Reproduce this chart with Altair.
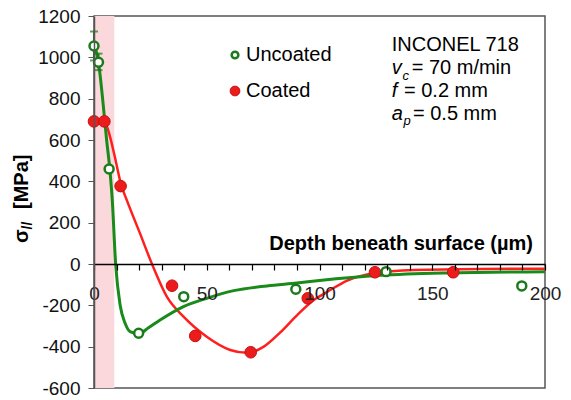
import altair as alt
import pandas as pd

# ---- data ----
unc_x = [0, 2, 6.7, 19.8, 39.8, 89.5, 129.5, 189.7]
unc_y = [1055, 976, 460, -335, -158, -122, -37, -106]

coat_x = [0, 4.6, 11.8, 34.6, 44.9, 69.5, 94.8, 124.6, 159.3]
coat_y = [690, 690, 377, -105, -348, -427, -166, -40, -40]

unc_fit_x = [0, 2, 4, 5.6, 7, 8.1, 9.6, 11.6, 13.8, 16, 20, 24, 29.3, 39.7, 50, 62, 76.7, 90, 100, 127, 157, 200]
unc_fit_y = [1065, 975, 780, 600, 460, 310, 0, -200, -287, -327, -337, -310, -271, -206, -166, -129, -106, -92, -80, -55, -43, -37]

coat_fit_x = [0, 4.6, 7, 9, 12, 14.5, 20.4, 25.6, 32.3, 39.7, 50, 60.4, 68, 75.3, 82.7, 90.1, 97.5, 103.4, 112.3, 124, 142, 172, 200]
coat_fit_y = [695, 690, 620, 530, 385, 310, 148, 3, -158, -255, -352, -416, -430, -400, -330, -247, -174, -135, -80, -45, -29, -24, -23]

err_x = [0, 2]
err_lo = [985, 938]
err_hi = [1125, 1018]

band_start, band_end = 0, 9

x_ticks = list(range(0, 201, 10))
y_ticks = list(range(-600, 1201, 200))

# ---- styling ----
W, H = 451, 372
FONT = "Liberation Sans"
GREEN_LINE = "#1a8a1a"
GREEN_MK = "#1b7a1b"
RED_LINE = "#ff1f1f"
RED_MK = "#ec1c1c"

xs = alt.Scale(domain=[0, 200], nice=False, zero=False)
ys = alt.Scale(domain=[-600, 1200], nice=False, zero=False)

x_axis = alt.Axis(values=x_ticks, labelExpr="datum.value % 50 == 0 ? '' + datum.value : ''",
                  offset=-124, tickSize=6, tickColor="black", tickWidth=1.2,
                  domainColor="black", domainWidth=1.5, labelFontSize=19, labelFont=FONT,
                  labelColor="#222", labelPadding=14, grid=False, title=None,
                  labelFlush=False, labelOverlap=False, zindex=1)
y_axis = alt.Axis(values=y_ticks, labelExpr="'' + datum.value", tickSize=6, tickColor="#555",
                  domainColor="#555", domainWidth=1.5, labelFontSize=19, labelFont=FONT,
                  labelColor="#111", labelPadding=8, grid=False, title=None, labelFlush=False,
                  labelOverlap=False, zindex=1)


def X(f):
    return alt.X(f, type="quantitative", scale=xs, axis=x_axis)


def Y(f):
    return alt.Y(f, type="quantitative", scale=ys, axis=y_axis)


one = alt.Data(values=[{"k": 1}])


def txt(s, x, y, size=20, weight="normal", style="normal", align="left",
        baseline="alphabetic", angle=0):
    return alt.Chart(one).mark_text(text=s, fontSize=size, fontWeight=weight, fontStyle=style,
                                    font=FONT, align=align, baseline=baseline, angle=angle,
                                    color="black").encode(x=alt.value(x), y=alt.value(y))


band_df = pd.DataFrame({"x0": [band_start], "x1": [band_end]})
unc_df = pd.DataFrame({"x": unc_x, "y": unc_y})
coat_df = pd.DataFrame({"x": coat_x, "y": coat_y})
unc_fit_df = pd.DataFrame({"x": unc_fit_x, "y": unc_fit_y})
coat_fit_df = pd.DataFrame({"x": coat_fit_x, "y": coat_fit_y})
err_df = pd.DataFrame({"x": err_x, "lo": err_lo, "hi": err_hi})

band = alt.Chart(band_df).mark_rect(color="#fbd8db").encode(
    x=X("x0"), x2="x1", y=alt.value(0), y2=alt.value(H))

red_line = alt.Chart(coat_fit_df).mark_line(color=RED_LINE, strokeWidth=2.5, interpolate="monotone").encode(
    x=X("x"), y=Y("y"))
green_line = alt.Chart(unc_fit_df).mark_line(color=GREEN_LINE, strokeWidth=3, interpolate="monotone").encode(
    x=X("x"), y=Y("y"))

err_rule = alt.Chart(err_df).mark_rule(color=GREEN_MK, strokeWidth=2).encode(
    x=X("x"), y=Y("lo"), y2="hi")
cap_hi = alt.Chart(err_df).mark_tick(color=GREEN_MK, orient="horizontal", size=8, thickness=2).encode(
    x=X("x"), y=Y("hi"))
cap_lo = alt.Chart(err_df).mark_tick(color=GREEN_MK, orient="horizontal", size=8, thickness=2).encode(
    x=X("x"), y=Y("lo"))

red_pts = alt.Chart(coat_df).mark_point(shape="circle", filled=True, fill=RED_MK, stroke="#c41010",
                                        strokeWidth=1, size=135, opacity=1).encode(x=X("x"), y=Y("y"))
green_pts = alt.Chart(unc_df).mark_point(shape="circle", filled=True, fill="white", stroke=GREEN_MK,
                                         strokeWidth=2.5, size=80, opacity=1).encode(x=X("x"), y=Y("y"))

leg_g = alt.Chart(one).mark_point(shape="circle", filled=True, fill="white", stroke=GREEN_MK,
                                  strokeWidth=2.5, size=45, opacity=1).encode(x=alt.value(141), y=alt.value(39))
leg_r = alt.Chart(one).mark_point(shape="circle", filled=True, fill=RED_MK, stroke="#c41010",
                                  strokeWidth=1, size=95, opacity=1).encode(x=alt.value(141), y=alt.value(75))

texts = [
    txt("Uncoated", 152, 39, baseline="middle"),
    txt("Coated", 152, 75, baseline="middle"),
    txt("INCONEL 718", 297.7, 34.7),
    txt("v", 297.7, 58, style="italic"),
    txt("c", 308.5, 64, size=13, style="italic"),
    txt("= 70 m/min", 317.7, 58),
    txt("f", 297.7, 81, style="italic"),
    txt("= 0.2 mm", 310, 81),
    txt("a", 297.7, 104, style="italic"),
    txt("p", 309.5, 109, size=13, style="italic"),
    txt("= 0.5 mm", 319, 104),
    txt("Depth beneath surface (µm)", 439, 234, weight="bold", align="right"),
    txt("σ", -66, 227, weight="bold", angle=270),
    txt("//", -62, 213.5, size=14, weight="bold", angle=270),
    txt("[MPa]", -66, 193, weight="bold", angle=270),
]

chart = alt.layer(band, red_line, green_line, err_rule, cap_hi, cap_lo, red_pts, green_pts,
                  leg_g, leg_r, *texts).properties(
    width=W, height=H,
    autosize=alt.AutoSizeParams(type="none"),
    padding={"left": 86, "top": 8, "right": 18, "bottom": 10},
    background="white",
).configure_view(stroke="#555", strokeWidth=1.5)

chart.save("out.html", embed_options={"renderer": "svg", "actions": False})
